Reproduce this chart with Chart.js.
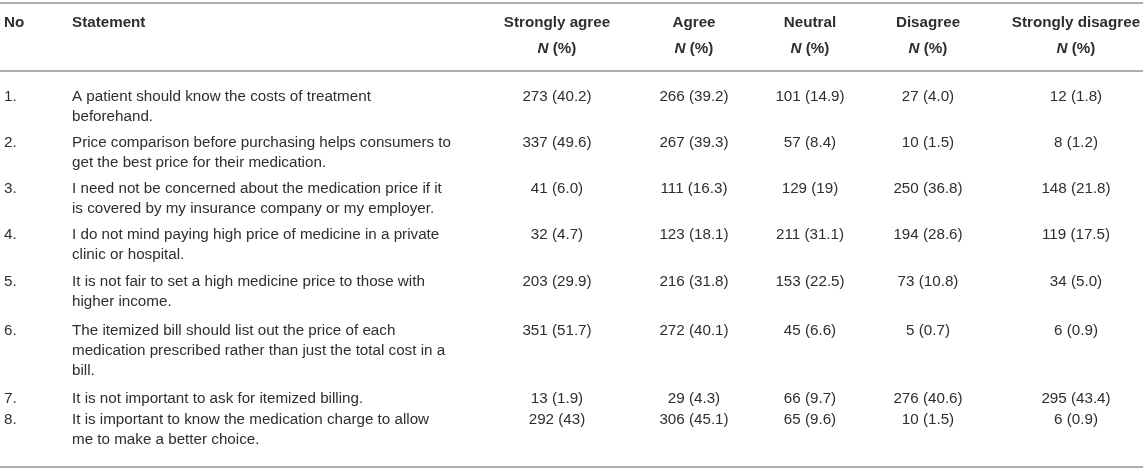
<!DOCTYPE html>
<html lang="en">
<head>
  <meta charset="UTF-8" />
  <title>Attitudes towards medication price</title>
  <script src="https://cdn.jsdelivr.net/npm/chart.js"></script>
  <style>
    html, body { margin: 0; padding: 0; background: #fff; }
    #wrap { width: 1143px; height: 473px; }
  </style>
</head>
<body>
<div id="wrap"><canvas id="tbl" width="1143" height="473"></canvas></div>
<script>
  // table content
  const rowNo = ['1.', '2.', '3.', '4.', '5.', '6.', '7.', '8.'];
  const statements = [
    ['A patient should know the costs of treatment', 'beforehand.'],
    ['Price comparison before purchasing helps consumers to', 'get the best price for their medication.'],
    ['I need not be concerned about the medication price if it', 'is covered by my insurance company or my employer.'],
    ['I do not mind paying high price of medicine in a private', 'clinic or hospital.'],
    ['It is not fair to set a high medicine price to those with', 'higher income.'],
    ['The itemized bill should list out the price of each', 'medication prescribed rather than just the total cost in a', 'bill.'],
    ['It is not important to ask for itemized billing.'],
    ['It is important to know the medication charge to allow', 'me to make a better choice.']
  ];
  const responses = ['Strongly agree', 'Agree', 'Neutral', 'Disagree', 'Strongly disagree'];

  const stronglyAgreeN   = [273, 337, 41, 32, 203, 351, 13, 292];
  const stronglyAgreePct = ['40.2', '49.6', '6.0', '4.7', '29.9', '51.7', '1.9', '43'];
  const agreeN           = [266, 267, 111, 123, 216, 272, 29, 306];
  const agreePct         = ['39.2', '39.3', '16.3', '18.1', '31.8', '40.1', '4.3', '45.1'];
  const neutralN         = [101, 57, 129, 211, 153, 45, 66, 65];
  const neutralPct       = ['14.9', '8.4', '19', '31.1', '22.5', '6.6', '9.7', '9.6'];
  const disagreeN        = [27, 10, 250, 194, 73, 5, 276, 10];
  const disagreePct      = ['4.0', '1.5', '36.8', '28.6', '10.8', '0.7', '40.6', '1.5'];
  const sDisagreeN       = [12, 8, 148, 119, 34, 6, 295, 6];
  const sDisagreePct     = ['1.8', '1.2', '21.8', '17.5', '5.0', '0.9', '43.4', '0.9'];

  const countCols = [
    [stronglyAgreeN, stronglyAgreePct],
    [agreeN, agreePct],
    [neutralN, neutralPct],
    [disagreeN, disagreePct],
    [sDisagreeN, sDisagreePct]
  ];

  // layout (units of the hidden scales = px)
  const colX = [4, 72, 557, 694, 810, 928, 1076];
  const lineH = 20;
  const headY = [23, 49];
  const rowY = [97, 143, 189, 235, 282, 331, 399, 420]; // first line of each row
  const rules = [3, 71, 467];
  const textColor = '#2e2e2e';
  const fontSize = '15.2px';
  const font = '"Liberation Sans", Arial, Helvetica, sans-serif';

  const datasets = [];
  // "No" column
  datasets.push({
    label: 'No', align: 'left',
    texts: rowNo,
    data: rowNo.map((_, r) => ({ x: colX[0], y: rowY[r] }))
  });
  // statement column, one point per text line
  const stTexts = [], stPts = [];
  statements.forEach((lines, r) => lines.forEach((t, k) => {
    stTexts.push(t);
    stPts.push({ x: colX[1], y: rowY[r] + k * lineH });
  }));
  datasets.push({ label: 'Statement', align: 'left', texts: stTexts, data: stPts });
  // response columns
  countCols.forEach(([n, pct], c) => {
    datasets.push({
      label: responses[c], align: 'center',
      texts: n.map((v, r) => `${v} (${pct[r]})`),
      data: n.map((_, r) => ({ x: colX[c + 2], y: rowY[r] }))
    });
  });
  datasets.forEach(d => { d.pointRadius = 0; d.showLine = false; });

  const tablePlugin = {
    id: 'tablePlugin',
    afterDatasetsDraw(chart) {
      const ctx = chart.ctx;
      const xs = chart.scales.x, ys = chart.scales.y;
      ctx.save();
      // rules
      ctx.strokeStyle = '#adadad';
      ctx.lineWidth = 2;
      rules.forEach(v => {
        const py = Math.round(ys.getPixelForValue(v));
        ctx.beginPath();
        ctx.moveTo(xs.left, py);
        ctx.lineTo(xs.right, py);
        ctx.stroke();
      });
      ctx.fillStyle = textColor;
      ctx.textBaseline = 'middle';
      const bold = `bold ${fontSize} ${font}`;
      const boldIt = `italic bold ${fontSize} ${font}`;
      // header
      ctx.font = bold;
      ctx.textAlign = 'left';
      ctx.fillText('No', xs.getPixelForValue(colX[0]), ys.getPixelForValue(headY[0]));
      ctx.fillText('Statement', xs.getPixelForValue(colX[1]), ys.getPixelForValue(headY[0]));
      responses.forEach((h, c) => {
        const cx = xs.getPixelForValue(colX[c + 2]);
        ctx.font = bold;
        ctx.textAlign = 'center';
        ctx.fillText(h, cx, ys.getPixelForValue(headY[0]));
        // N (%) with italic N
        ctx.textAlign = 'left';
        ctx.font = boldIt;
        const wN = ctx.measureText('N').width;
        ctx.font = bold;
        const wP = ctx.measureText(' (%)').width;
        const x0 = cx - (wN + wP) / 2;
        const hy = ys.getPixelForValue(headY[1]);
        ctx.font = boldIt;
        ctx.fillText('N', x0, hy);
        ctx.font = bold;
        ctx.fillText(' (%)', x0 + wN, hy);
      });
      // body cells
      ctx.font = `${fontSize} ${font}`;
      chart.data.datasets.forEach((ds, i) => {
        ctx.textAlign = ds.align;
        chart.getDatasetMeta(i).data.forEach((el, j) => {
          ctx.fillText(ds.texts[j], el.x, el.y);
        });
      });
      ctx.restore();
    }
  };

  new Chart(document.getElementById('tbl'), {
    type: 'scatter',
    data: { datasets },
    options: {
      responsive: false,
      animation: false,
      events: [],
      layout: { padding: 0 },
      plugins: { legend: { display: false }, tooltip: { enabled: false } },
      scales: {
        x: { type: 'linear', min: 0, max: 1143, display: false },
        y: { type: 'linear', min: 0, max: 473, reverse: true, display: false }
      }
    },
    plugins: [tablePlugin]
  });
</script>
</body>
</html>
